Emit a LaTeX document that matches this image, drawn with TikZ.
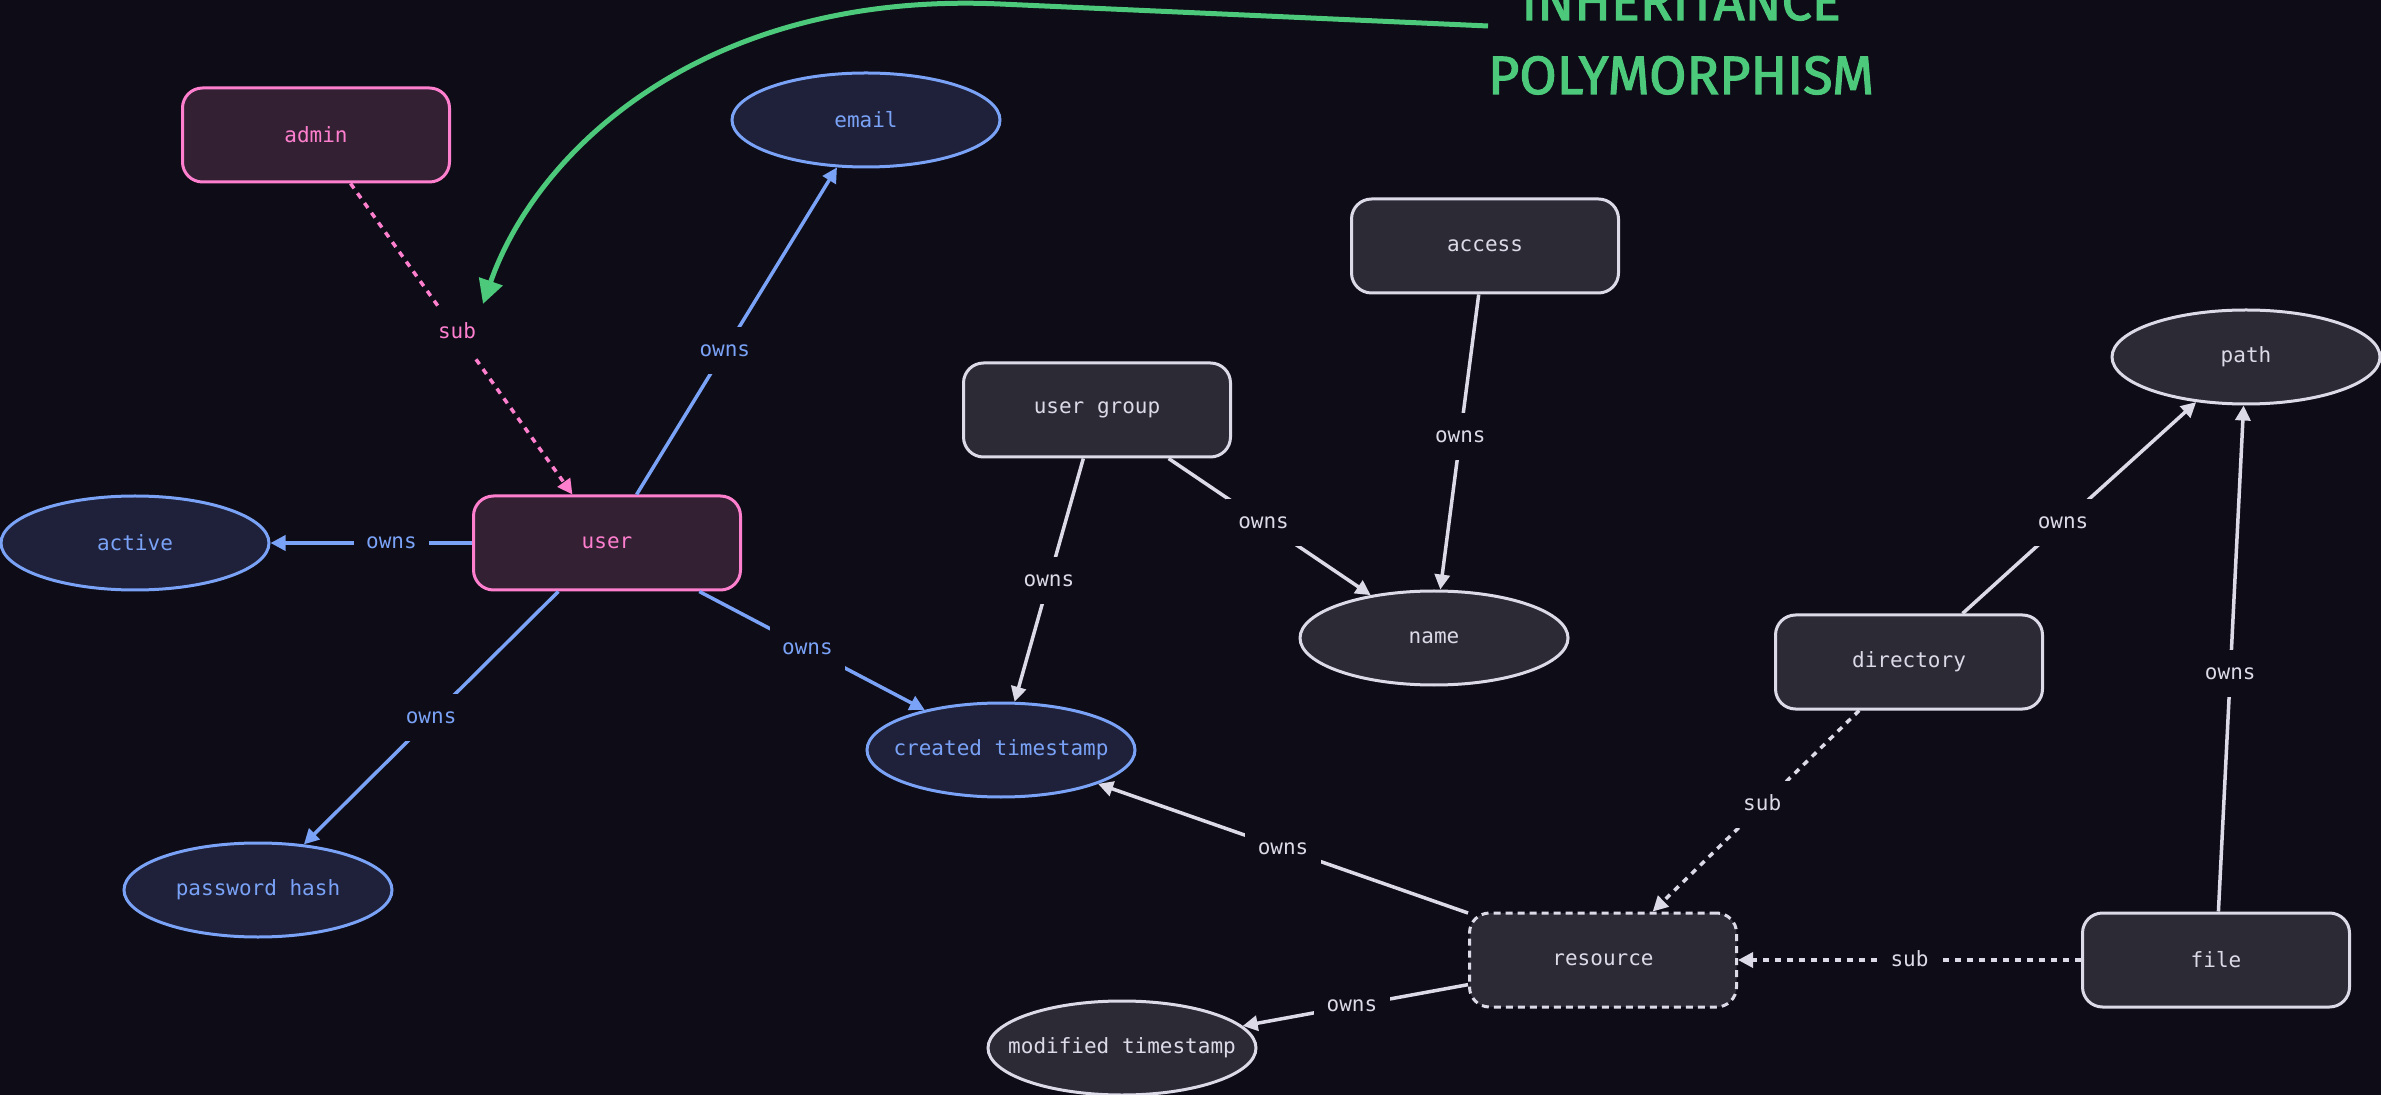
\documentclass[tikz,border=0pt]{standalone}
\usepackage{fontspec}
\setmonofont{DejaVu Sans Mono}
\newfontfamily\headfont[FakeBold=2]{Fira Sans}
\usetikzlibrary{shapes.geometric,arrows.meta}

\definecolor{bg}{HTML}{0E0D17}
\definecolor{pinkln}{HTML}{FF7FCF}
\definecolor{pinkfill}{HTML}{332033}
\definecolor{blueln}{HTML}{7AA2F7}
\definecolor{bluefill}{HTML}{1E2139}
\definecolor{greyln}{HTML}{DDDAE8}
\definecolor{greyfill}{HTML}{2B2A35}
\definecolor{greenln}{HTML}{4CC97A}

% attribute labels keep the ellipse at its fixed size
\newcommand{\attrlabel}[1]{\makebox[0pt]{#1}}

\tikzset{
  nodefont/.style={font=\ttfamily\fontsize{10.5}{12}\selectfont},
  entity/.style={rectangle, rounded corners=10pt, minimum width=133.5pt,
    minimum height=47pt, line width=1.5pt, nodefont},
  attr/.style={ellipse, minimum width=134pt, minimum height=47pt,
    line width=1.5pt, nodefont},
  pinkn/.style={draw=pinkln, fill=pinkfill, text=pinkln},
  bluen/.style={draw=blueln, fill=bluefill, text=blueln},
  greyn/.style={draw=greyln, fill=greyfill, text=greyln},
  abstractn/.style={greyn, dash pattern=on 3.5pt off 2.5pt},
  rel/.style={line width=1.75pt, -{Triangle[length=7.5pt,width=7.5pt]}},
  subrel/.style={rel, dash pattern=on 3pt off 3pt},
  lbl/.style={fill=bg, text height=8pt, text depth=2pt, inner xsep=6.25pt,
    inner ysep=6.75pt, pos=0.5, nodefont},
  headline/.style={anchor=base, inner sep=0, text=greenln,
    font=\headfont\fontsize{27}{30}\selectfont},
}

\begin{document}
\begin{tikzpicture}[x=0.5pt, y=-0.5pt]
  % canvas
  \fill[bg] (0,0) rectangle (2381,1095);
  \useasboundingbox (0,0) rectangle (2381,1095);

  % heading
  \node[headline] (inh)  at (1681,20) {INHERITANCE};
  \node[headline] (poly) at (1681,94) {POLYMORPHISM};

  % user side
  \node[entity, pinkn] (admin) at (316,135) {admin};
  \node[entity, pinkn] (user)  at (607,543) {user};
  \node[attr, bluen] (email)   at (866,120) {\attrlabel{email}};
  \node[attr, bluen] (active)  at (135,543) {\attrlabel{active}};
  \node[attr, bluen] (pwd)     at (258,890) {\attrlabel{password hash}};
  \node[attr, bluen] (created) at (1001,750) {\attrlabel{created timestamp}};

  % groups and access
  \node[entity, greyn] (group)  at (1097,410) {user group};
  \node[entity, greyn] (access) at (1485,246) {access};
  \node[attr, greyn] (name)     at (1434,638) {\attrlabel{name}};

  % resources
  \node[attr, greyn] (path)       at (2246,357) {\attrlabel{path}};
  \node[entity, greyn] (dir)      at (1909,662) {directory};
  \node[entity, abstractn] (res)  at (1603,960) {resource};
  \node[entity, greyn] (file)     at (2216,960) {file};
  \node[attr, greyn] (modified)   at (1122,1048) {\attrlabel{modified timestamp}};

  % inheritance
  \draw[subrel, pinkln] (admin) -- node[lbl, pos=0.48, text=pinkln] (adminsub) {sub} (user);
  \draw[subrel, greyln] (dir) -- node[lbl, pos=0.47, text=greyln] {sub} (res);
  \draw[subrel, greyln] (file) -- node[lbl, text=greyln] {sub} (res);

  % ownership
  \draw[rel, blueln] (user) -- node[lbl, pos=0.44, text=blueln] {owns} (email);
  \draw[rel, blueln] (user) -- node[lbl, pos=0.4, text=blueln] {owns} (active);
  \draw[rel, blueln] (user) -- node[lbl, text=blueln] {owns} (pwd);
  \draw[rel, blueln] (user) -- node[lbl, pos=0.48, text=blueln] {owns} (created);
  \draw[rel, greyln] (group) -- node[lbl, text=greyln] {owns} (created);
  \draw[rel, greyln] (group) -- node[lbl, pos=0.47, text=greyln] {owns} (name);
  \draw[rel, greyln] (access) -- node[lbl, pos=0.48, text=greyln] {owns} (name);
  \draw[rel, greyln] (dir) -- node[lbl, pos=0.43, text=greyln] {owns} (path);
  \draw[rel, greyln] (file) -- node[lbl, pos=0.47, text=greyln] {owns} (path);
  \draw[rel, greyln] (res) -- node[lbl, text=greyln] {owns} (created);
  \draw[rel, greyln] (res) -- node[lbl, pos=0.515, text=greyln] {owns} (modified);

  % pointer from the heading to the sub relation
  \coordinate (ptrstart) at (1488,26);
  \coordinate (ptrbend) at (1000,4);
  \coordinate (ptrend) at (483,304);
  \draw[line width=2.5pt, greenln, -{Triangle[length=12pt,width=12pt]}]
    (ptrstart) -- (ptrbend) .. controls (700,-9.5) and (535,154) .. (ptrend);
\end{tikzpicture}
\end{document}
